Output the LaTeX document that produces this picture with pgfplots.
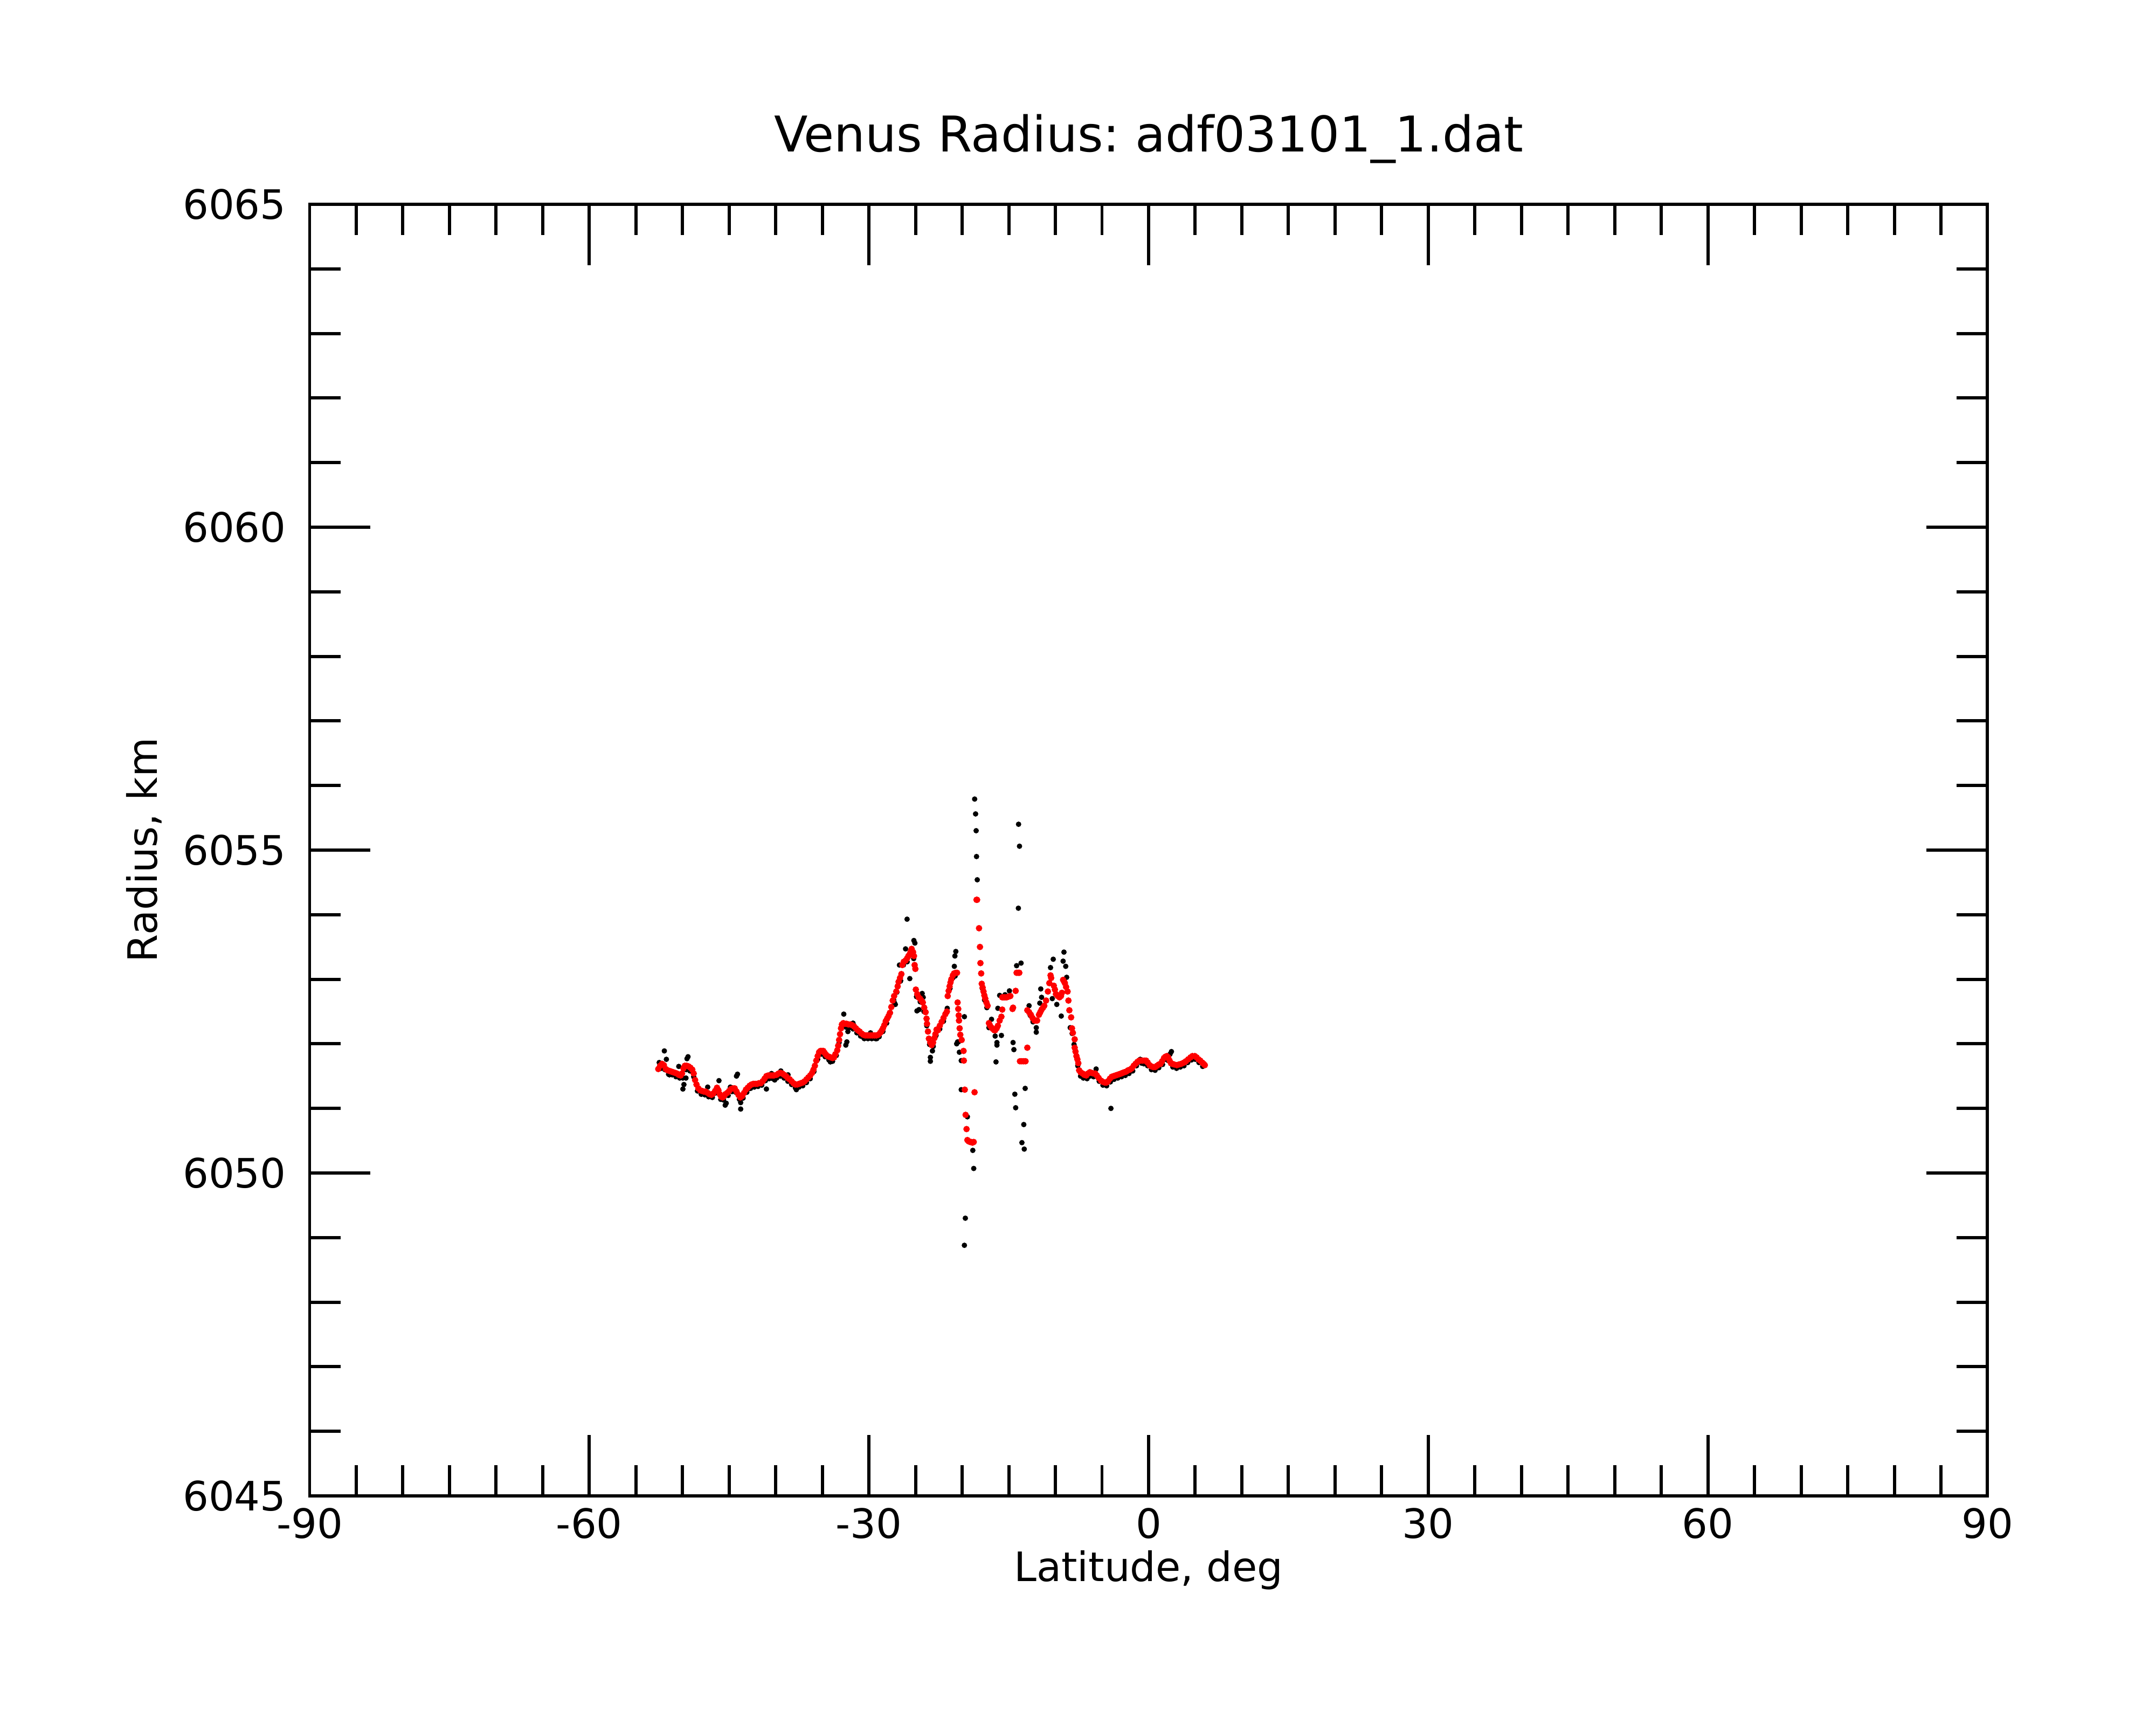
\documentclass[border=0pt]{standalone}
\usepackage{fontspec}
\setmainfont{DejaVu Sans}
\usepackage{pgfplots}
\pgfplotsset{compat=1.18}
\frenchspacing
\begin{document}
\begin{tikzpicture}[font=\fontsize{10.7}{12.8}\selectfont]
\useasboundingbox (-2.8725,-2.125) rectangle (17.1275,13.875);
\begin{axis}[
  at={(0,0)}, anchor=south west,
  scale only axis, width=15.565cm, height=11.98cm,
  xmin=-90, xmax=90, ymin=6045, ymax=6065,
  xtick={-90,-60,-30,0,30,60,90},
  xticklabels={-90,-60,-30,0,30,60,90},
  ytick={6045,6050,6055,6060,6065},
  yticklabels={6045,6050,6055,6060,6065},
  minor x tick num=5, minor y tick num=4,
  scaled x ticks=false, scaled y ticks=false,
  tick align=inside,
  major tick length=0.565cm, minor tick length=0.287cm,
  every tick/.style={black, line width=0.85pt},
  every minor tick/.append style={line width=0.85pt},
  axis line style={line width=0.85pt},
  xticklabel style={anchor=base, inner sep=0pt, yshift=-0.395cm},
  yticklabel style={anchor=east, inner sep=0pt, xshift=-0.2125cm},
  xlabel={Latitude, deg},
  ylabel={Radius, km},
  xlabel style={at={(axis description cs:0.5,-0.06636)}, anchor=base, inner sep=0pt},
  ylabel style={at={(axis description cs:-0.09085,0.5)}, anchor=base, inner sep=0pt},
  clip=false,
]
% raw radius samples (black)
\addplot[only marks, mark=*, mark size=0.66pt, mark options={fill=black, draw=black, line width=0.1pt}] coordinates {
(-51.95,6051.89) (-51.73,6051.76) (-52.50,6051.71) (-51.40,6051.52) (-50.40,6051.65)
(-49.96,6051.47) (-49.96,6051.30) (-49.63,6051.47) (-49.52,6051.77) (-49.41,6051.80)
(-49.85,6051.37) (-47.97,6051.22) (-47.30,6051.33) (-46.09,6051.43) (-45.42,6051.05)
(-45.31,6051.08) (-44.87,6051.33) (-44.21,6051.50) (-44.10,6051.53) (-43.76,6051.09)
(-43.76,6050.99) (-42.99,6051.30) (-41.88,6051.36) (-41.00,6051.30) (-40.45,6051.54)
(-40.11,6051.44) (-39.45,6051.58) (-38.68,6051.52) (-37.79,6051.29) (-34.14,6051.72)
(-32.70,6052.46) (-32.48,6051.98) (-32.37,6052.03) (-32.26,6052.19) (-31.71,6052.32)
(-30.60,6052.10) (-29.83,6052.17) (-29.16,6052.08) (-27.17,6052.61) (-27.28,6052.64)
(-26.62,6052.97) (-26.73,6053.22) (-26.07,6053.47) (-25.91,6053.93) (-25.18,6053.60)
(-25.07,6053.56) (-25.62,6053.01) (-24.29,6052.78) (-24.18,6052.72) (-24.63,6052.53)
(-24.85,6052.51) (-23.41,6051.79) (-23.41,6051.73) (-23.19,6051.89) (-19.76,6052.42)
(-52.3,6051.62) (-51.9,6051.60) (-51.5,6051.53) (-51.1,6051.52) (-50.7,6051.49)
(-50.3,6051.47) (-49.6,6051.60) (-49.2,6051.58) (-48.8,6051.49) (-48.4,6051.27)
(-48.0,6051.22) (-47.6,6051.21) (-47.2,6051.18) (-46.8,6051.17) (-46.4,6051.24)
(-45.9,6051.14) (-45.6,6051.13) (-45.1,6051.20) (-44.7,6051.26) (-44.3,6051.25)
(-43.9,6051.14) (-43.5,6051.16) (-43.1,6051.25) (-42.7,6051.31) (-42.3,6051.33)
(-41.9,6051.34) (-41.5,6051.36) (-41.1,6051.43) (-40.7,6051.46) (-40.3,6051.46)
(-39.9,6051.47) (-39.5,6051.50) (-39.1,6051.47) (-38.7,6051.42) (-38.3,6051.37)
(-37.9,6051.32) (-37.5,6051.33) (-37.1,6051.35) (-36.7,6051.40) (-36.3,6051.46)
(-35.9,6051.57) (-35.5,6051.76) (-35.1,6051.84) (-34.7,6051.80) (-34.3,6051.75)
(-33.9,6051.73) (-33.5,6051.82) (-33.2,6052.02) (-32.9,6052.25) (-32.5,6052.26)
(-32.1,6052.25) (-31.7,6052.23) (-31.3,6052.17) (-30.9,6052.12) (-30.5,6052.08)
(-30.1,6052.08) (-29.7,6052.08) (-29.3,6052.08) (-28.9,6052.11) (-28.5,6052.19)
(-28.1,6052.32) (-27.7,6052.48) (-27.35,6052.68) (-27.0,6052.80) (-26.6,6052.98)
(-26.3,6053.22) (-25.9,6053.27) (-25.5,6053.38) (-25.2,6053.32) (-24.9,6052.73)
(-24.5,6052.65) (-24.1,6052.50) (-23.8,6052.28) (-23.5,6051.99) (-23.1,6051.96)
(-22.8,6052.13) (-22.4,6052.23) (-22.0,6052.35) (-21.6,6052.55) (-21.3,6052.86)
(-21.0,6053.02) (-20.75,6053.05)
(-20.68,6053.43) (-20.78,6053.36) (-20.84,6053.20) (-20.59,6052.00)
(-20.40,6052.03) (-20.49,6052.03) (-20.30,6051.87) (-20.10,6051.74) (-20.10,6051.29)
(-19.44,6050.87) (-18.86,6050.35) (-18.76,6050.07) (-19.66,6049.30) (-19.76,6048.88)
(-18.66,6055.79) (-18.56,6055.56) (-18.50,6055.30) (-18.46,6054.90) (-18.38,6054.54)
(-13.95,6055.40) (-13.85,6055.06) (-13.97,6054.10)
(-17.85,6052.86) (-17.60,6052.68) (-17.35,6052.56)
(-16.85,6052.38) (-17.13,6052.25) (-16.46,6052.12) (-15.79,6052.13) (-16.27,6052.02)
(-16.17,6052.55) (-15.98,6052.75) (-14.93,6052.82) (-15.40,6052.76)
(-16.27,6051.98) (-16.37,6051.72) (-14.54,6052.02) (-14.45,6051.91)
(-14.16,6053.21) (-13.68,6053.25)
(-13.24,6051.31) (-14.35,6051.22) (-14.26,6051.01) (-13.39,6050.75) (-13.59,6050.47) (-13.34,6050.37)
(-12.82,6052.59) (-12.05,6052.25) (-12.05,6052.18) (-12.40,6052.34) (-12.70,6052.44)
(-11.57,6052.85) (-11.48,6052.72) (-11.67,6052.63)
(-10.23,6053.31) (-10.52,6053.18) (-10.33,6052.70) (-9.85,6052.61)
(-9.08,6053.42) (-9.17,6053.28) (-8.89,6053.20) (-8.79,6053.03)
(-9.37,6052.43) (-8.41,6052.25) (-8.20,6052.16) (-8.00,6051.99)
(-7.60,6051.66) (-7.30,6051.50) (-7.00,6051.47) (-6.60,6051.46) (-6.30,6051.50)
(-5.90,6051.49) (-5.63,6051.61) (-5.30,6051.42) (-4.90,6051.36) (-4.50,6051.35)
(-4.04,6051.00) (-4.10,6051.41) (-3.70,6051.45) (-3.30,6051.47) (-2.90,6051.49)
(-2.50,6051.51) (-2.10,6051.54) (-1.70,6051.58) (-1.30,6051.66) (-0.90,6051.76)
(-0.75,6051.70) (-0.50,6051.69) (-0.10,6051.66) (0.30,6051.60) (0.70,6051.59)
(1.10,6051.63) (1.50,6051.68) (1.80,6051.76) (2.10,6051.74) (2.45,6051.88)
(2.30,6051.84) (2.60,6051.64) (3.00,6051.62) (3.40,6051.64) (3.80,6051.66)
(4.20,6051.71) (4.60,6051.75) (5.00,6051.76) (5.40,6051.71) (5.80,6051.65)
};
% smoothed radius (red)
\addplot[only marks, mark=*, mark size=0.8pt, mark options={fill=red, draw=red, line width=0.1pt}] coordinates {
(-52.60,6051.61) (-52.40,6051.66) (-52.20,6051.69) (-52.00,6051.67) (-51.80,6051.61)
(-51.60,6051.59) (-51.40,6051.58) (-51.20,6051.57) (-51.00,6051.56) (-50.80,6051.55)
(-50.60,6051.54) (-50.40,6051.52) (-50.20,6051.51) (-50.05,6051.54) (-49.90,6051.62)
(-49.75,6051.66) (-49.55,6051.66) (-49.35,6051.65) (-49.15,6051.63) (-48.95,6051.60)
(-48.80,6051.54) (-48.65,6051.44) (-48.50,6051.37) (-48.30,6051.31) (-48.10,6051.28)
(-47.90,6051.27) (-47.70,6051.26) (-47.50,6051.26) (-47.30,6051.24) (-47.10,6051.22)
(-46.90,6051.21) (-46.70,6051.23) (-46.50,6051.27) (-46.30,6051.32) (-46.15,6051.28)
(-46.00,6051.22) (-45.85,6051.18) (-45.70,6051.17) (-45.55,6051.19) (-45.40,6051.22)
(-45.20,6051.24) (-45.00,6051.27) (-44.80,6051.30) (-44.60,6051.31) (-44.40,6051.31)
(-44.20,6051.26) (-44.00,6051.21) (-43.80,6051.17) (-43.60,6051.19) (-43.40,6051.24)
(-43.20,6051.29) (-43.00,6051.32) (-42.80,6051.35) (-42.60,6051.37) (-42.40,6051.38)
(-42.20,6051.38) (-42.00,6051.38) (-41.80,6051.39) (-41.60,6051.39) (-41.40,6051.42)
(-41.20,6051.46) (-41.00,6051.50) (-40.80,6051.51) (-40.60,6051.51) (-40.40,6051.51)
(-40.20,6051.51) (-39.90,6051.52) (-39.70,6051.54) (-39.50,6051.55) (-39.30,6051.54)
(-39.10,6051.52) (-38.90,6051.50) (-38.70,6051.47) (-38.50,6051.45) (-38.30,6051.42)
(-38.10,6051.39) (-37.90,6051.37) (-37.70,6051.37) (-37.50,6051.38) (-37.30,6051.39)
(-37.10,6051.40) (-36.90,6051.42) (-36.70,6051.45) (-36.50,6051.48) (-36.30,6051.51)
(-36.10,6051.55) (-35.95,6051.60) (-35.80,6051.66) (-35.65,6051.74) (-35.50,6051.81)
(-35.35,6051.87) (-35.20,6051.89) (-35.05,6051.89) (-34.90,6051.89) (-34.75,6051.86)
(-34.60,6051.83) (-34.45,6051.81) (-34.30,6051.80) (-34.10,6051.79) (-33.90,6051.78)
(-33.75,6051.79) (-33.60,6051.84) (-33.40,6051.90) (-33.30,6051.97) (-33.20,6052.06)
(-33.10,6052.15) (-33.00,6052.24) (-32.90,6052.30) (-32.75,6052.32) (-32.60,6052.31)
(-32.40,6052.31) (-32.20,6052.30) (-32.00,6052.30) (-31.80,6052.29) (-31.60,6052.27)
(-31.40,6052.24) (-31.20,6052.21) (-31.00,6052.19) (-30.80,6052.16) (-30.60,6052.14)
(-30.40,6052.13) (-30.20,6052.13) (-30.00,6052.13) (-29.80,6052.13) (-29.60,6052.13)
(-29.40,6052.13) (-29.20,6052.13) (-29.00,6052.14) (-28.80,6052.17) (-28.65,6052.20)
(-28.50,6052.24) (-28.35,6052.29) (-28.20,6052.35) (-28.05,6052.39) (-27.90,6052.43)
(-27.75,6052.48) (-27.60,6052.57) (-27.45,6052.67) (-27.30,6052.74) (-27.07,6052.81)
(-26.92,6052.89) (-26.82,6052.96) (-26.67,6053.02) (-26.52,6053.08) (-26.42,6053.22)
(-26.27,6053.27) (-26.07,6053.29) (-25.92,6053.32) (-25.77,6053.36) (-25.62,6053.39)
(-25.52,6053.43) (-25.42,6053.47) (-25.27,6053.42) (-25.17,6053.36) (-25.10,6053.22)
(-25.02,6053.16) (-24.97,6052.84) (-24.82,6052.77) (-24.67,6052.72) (-24.52,6052.70)
(-24.37,6052.67) (-24.22,6052.64) (-24.07,6052.56) (-23.92,6052.49) (-23.82,6052.39)
(-23.77,6052.31) (-23.67,6052.19) (-23.57,6052.08) (-23.42,6052.02) (-23.27,6051.98)
(-23.12,6052.02) (-22.97,6052.09) (-22.87,6052.15) (-22.75,6052.22) (-22.60,6052.21)
(-22.40,6052.28) (-22.20,6052.34) (-22.00,6052.40) (-21.80,6052.46) (-21.64,6052.50)
(-21.55,6052.74) (-21.45,6052.82) (-21.35,6052.89) (-21.25,6052.95) (-21.16,6053.00)
(-21.00,6053.06) (-20.87,6053.09) (-20.70,6053.10) (-20.55,6053.10) (-20.49,6052.64)
(-20.42,6052.54) (-20.37,6052.44) (-20.34,6052.36) (-20.27,6052.24) (-20.20,6052.14)
(-20.05,6052.06) (-19.85,6051.89) (-19.82,6051.74) (-19.72,6051.29) (-19.63,6050.90)
(-19.53,6050.68) (-19.44,6050.51) (-19.30,6050.49) (-19.15,6050.48) (-19.05,6050.48)
(-18.90,6050.47) (-18.76,6050.48) (-18.67,6051.25) (-18.46,6054.23) (-18.40,6054.23)
(-18.19,6053.79) (-18.09,6053.50) (-18.04,6053.25) (-17.96,6053.09) (-17.90,6052.93)
(-17.80,6052.87) (-17.71,6052.81) (-17.62,6052.75) (-17.52,6052.70) (-17.40,6052.64)
(-17.27,6052.59) (-17.13,6052.32) (-17.00,6052.28) (-16.85,6052.25) (-16.70,6052.23)
(-16.55,6052.21) (-16.46,6052.21) (-16.30,6052.24) (-16.17,6052.28) (-15.98,6052.36)
(-15.79,6052.42) (-15.70,6052.53) (-15.70,6052.72) (-15.55,6052.72) (-15.40,6052.72)
(-15.22,6052.72) (-15.05,6052.73) (-14.83,6052.74) (-14.60,6052.54) (-14.54,6052.56)
(-14.26,6052.82) (-14.16,6053.10) (-14.00,6053.10) (-13.87,6053.10) (-13.80,6051.73)
(-13.60,6051.73) (-13.40,6051.73) (-13.20,6051.73) (-13.01,6051.94) (-13.01,6052.52)
(-12.82,6052.49) (-12.63,6052.45) (-12.45,6052.40) (-12.24,6052.36) (-12.10,6052.36)
(-11.96,6052.36) (-11.76,6052.45) (-11.62,6052.49) (-11.48,6052.53) (-11.33,6052.56)
(-11.19,6052.59) (-11.00,6052.67) (-10.80,6052.81) (-10.65,6052.94) (-10.52,6053.06)
(-10.45,6053.02) (-10.17,6052.90) (-10.05,6052.84) (-9.94,6052.77) (-9.75,6052.74)
(-9.56,6052.72) (-9.40,6052.74) (-9.30,6052.79) (-9.17,6052.99) (-9.05,6052.96)
(-8.98,6052.94) (-8.85,6052.88) (-8.69,6052.81) (-8.60,6052.67) (-8.50,6052.52)
(-8.31,6052.41) (-8.22,6052.24) (-8.12,6052.17) (-7.93,6052.07) (-7.93,6051.94)
(-7.84,6051.88) (-7.74,6051.81) (-7.64,6051.76) (-7.54,6051.70) (-7.45,6051.59)
(-7.30,6051.56) (-7.07,6051.54) (-6.90,6051.52) (-6.68,6051.51) (-6.50,6051.54)
(-6.30,6051.56) (-6.10,6051.55) (-5.90,6051.54) (-5.72,6051.54) (-5.55,6051.51)
(-5.35,6051.47) (-5.10,6051.43) (-4.90,6051.41) (-4.70,6051.40) (-4.52,6051.40)
(-4.35,6051.42) (-4.15,6051.46) (-3.95,6051.49) (-3.75,6051.50) (-3.55,6051.51)
(-3.35,6051.52) (-3.15,6051.53) (-2.95,6051.54) (-2.78,6051.55) (-2.60,6051.56)
(-2.40,6051.57) (-2.20,6051.59) (-2.00,6051.60) (-1.81,6051.62) (-1.60,6051.66)
(-1.40,6051.69) (-1.20,6051.72) (-1.00,6051.74) (-0.85,6051.74) (-0.65,6051.74)
(-0.45,6051.74) (-0.27,6051.74) (-0.10,6051.71) (0.10,6051.67) (0.30,6051.65)
(0.50,6051.64) (0.70,6051.64) (0.90,6051.66) (1.10,6051.68) (1.28,6051.69)
(1.45,6051.73) (1.65,6051.78) (1.80,6051.80) (1.96,6051.81) (2.10,6051.79)
(2.25,6051.74) (2.40,6051.70) (2.54,6051.69) (2.75,6051.68) (3.03,6051.67)
(3.25,6051.68) (3.50,6051.69) (3.80,6051.71) (4.00,6051.73) (4.25,6051.76)
(4.50,6051.79) (4.70,6051.81) (4.96,6051.81) (5.15,6051.79) (5.35,6051.76)
(5.54,6051.74) (5.75,6051.71) (5.90,6051.69) (6.03,6051.67)
};
\node[anchor=base, inner sep=0pt, font=\fontsize{13}{15.6}\selectfont] at (rel axis cs:0.5,1.04048) {Venus Radius: adf03101\_1.dat};
\end{axis}
\end{tikzpicture}
\end{document}
